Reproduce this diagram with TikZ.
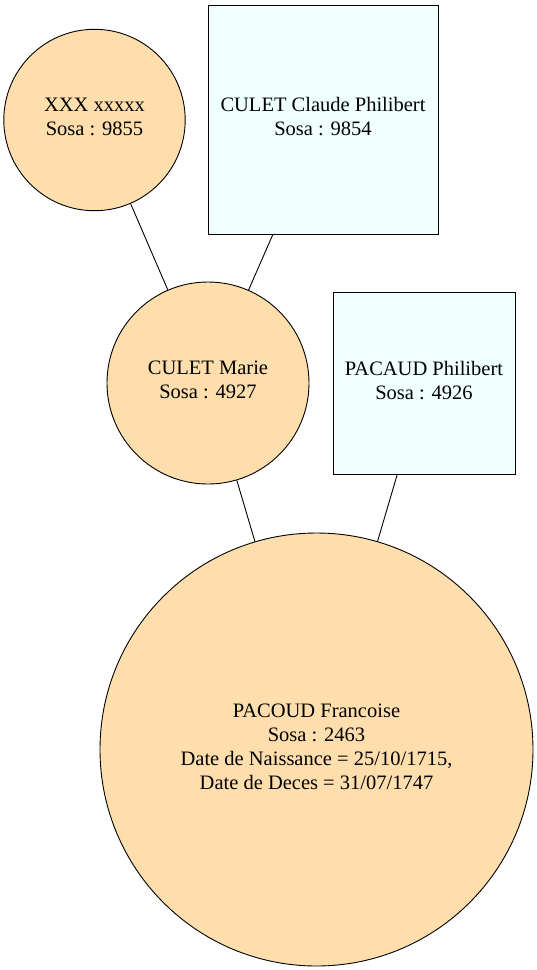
\documentclass[tikz,border=0pt]{standalone}
\usepackage{fontspec}
\setmainfont{Liberation Serif}
\definecolor{navw}{HTML}{FFDEAD}
\definecolor{azur}{HTML}{F0FFFF}
\begin{document}
\begin{tikzpicture}[x=1pt,y=-1pt,
  every node/.style={font=\fontsize{20.5}{24}\selectfont, align=center, inner sep=0pt, text depth=6pt, draw=black, line width=0.9pt},
  person/.style={circle, fill=navw},
  boxnode/.style={rectangle, fill=azur},
  link/.style={line width=0.9pt, draw=black}]
\useasboundingbox (0,0) rectangle (537,970);
\node[person, minimum size=181.4pt] (xxx) at (94.5,120) {XXX xxxxx\\Sosa : 9855};
\node[boxnode, minimum width=230pt, minimum height=229pt] (claude) at (323,119.5) {CULET Claude Philibert\\Sosa : 9854};
\node[person, minimum size=202pt] (marie) at (208,383) {CULET Marie\\Sosa : 4927};
\node[boxnode, minimum width=182pt, minimum height=182pt] (philibert) at (424,383) {PACAUD Philibert\\Sosa : 4926};
\node[person, minimum size=433pt] (francoise) at (316.5,749.5) {PACOUD Francoise\\Sosa : 2463\\Date de Naissance = 25/10/1715,\\Date de Deces = 31/07/1747};
\draw[link] (xxx) -- (marie);
\draw[link] (claude) -- (marie);
\draw[link] (marie) -- (francoise);
\draw[link] (philibert) -- (francoise);
\end{tikzpicture}
\end{document}
